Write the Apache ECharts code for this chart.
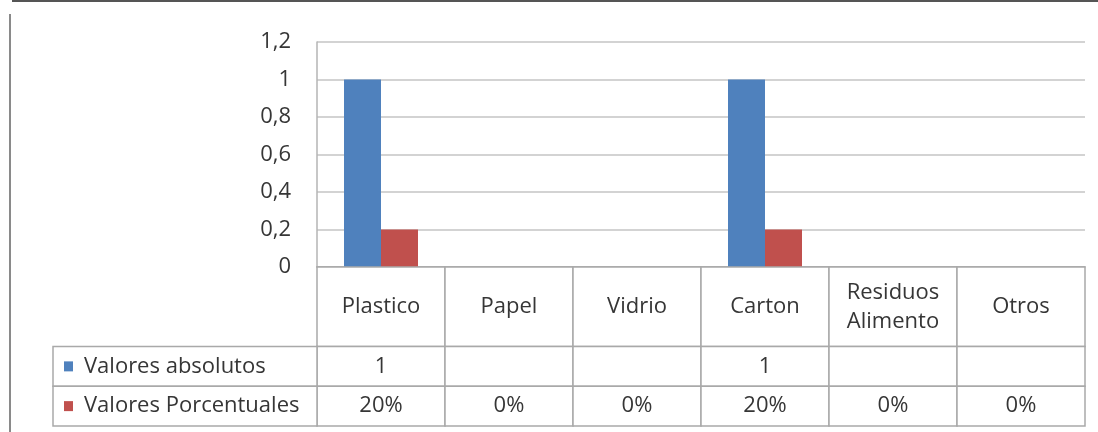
<!DOCTYPE html>
<html>
<head>
<meta charset="utf-8">
<script src="https://cdn.jsdelivr.net/npm/echarts@6/dist/echarts.min.js"></script>
<style>
  html, body { margin: 0; padding: 0; background: #ffffff; }
  #chart { width: 1098px; height: 432px; }
</style>
</head>
<body>
<div id="chart"></div>
<script>
// Waste categories and the two series shown in bars and in the data table
const categories = ['Plastico', 'Papel', 'Vidrio', 'Carton', 'Residuos\nAlimento', 'Otros'];
const seriesNames = ['Valores absolutos', 'Valores Porcentuales'];
const absolutos = [1, null, null, 1, null, null];
const porcentuales = [0.2, 0, 0, 0.2, 0, 0];
const yTickLabels = ['0', '0,2', '0,4', '0,6', '0,8', '1', '1,2'];
const seriesColors = ['#4f81bd', '#c0504d'];

// Data-table rows on an inverted 0..4 scale: header spans two units
const headerRow = [0, 2];
const tableRows = [[2, 3], [3, 4]];

const FONT_FAMILY = '"Open Sans", sans-serif';
const FONT_SIZE = 22;
const TEXT_COLOR = '#363636';
const TABLE_LINE = '#a9a9a9';

const fmtAbs = v => (v === null || v === undefined) ? '' : String(v);
const fmtPct = v => (v === null || v === undefined) ? '' : Math.round(v * 100) + '%';

// Cells of the category columns: header + one row per series
const tableCells = [];
categories.forEach((c, i) => {
  tableCells.push({ value: [i, headerRow[0], headerRow[1]], text: c });
  tableCells.push({ value: [i, tableRows[0][0], tableRows[0][1]], text: fmtAbs(absolutos[i]) });
  tableCells.push({ value: [i, tableRows[1][0], tableRows[1][1]], text: fmtPct(porcentuales[i]) });
});

// Cells of the row-label column (legend keys)
const labelCells = seriesNames.map((n, k) => ({
  value: [0, tableRows[k][0], tableRows[k][1]], text: n, color: seriesColors[k]
}));

function cellRect(api) {
  const top = api.coord([api.value(0), api.value(1)]);
  const bot = api.coord([api.value(0), api.value(2)]);
  const w = api.size([1, 0])[0];
  return { x: top[0] - w / 2, y: top[1], width: w, height: bot[1] - top[1] };
}

function renderTableCell(params, api) {
  const r = cellRect(api);
  const cell = tableCells[params.dataIndex];
  return {
    type: 'group',
    children: [
      { type: 'rect', shape: r, style: { fill: '#ffffff', stroke: TABLE_LINE, lineWidth: 1.5 } },
      { type: 'text', style: {
          text: cell.text, x: r.x + r.width / 2, y: r.y + r.height / 2,
          align: 'center', verticalAlign: 'middle', lineHeight: 29,
          font: FONT_SIZE + 'px ' + FONT_FAMILY, fill: TEXT_COLOR } }
    ]
  };
}

function renderLabelCell(params, api) {
  const r = cellRect(api);
  const cell = labelCells[params.dataIndex];
  const cy = r.y + r.height / 2;
  return {
    type: 'group',
    children: [
      { type: 'rect', shape: r, style: { fill: '#ffffff', stroke: TABLE_LINE, lineWidth: 1.5 } },
      { type: 'rect', shape: { x: r.x + 11, y: cy - 5, width: 9, height: 10 }, style: { fill: cell.color } },
      { type: 'text', style: {
          text: cell.text, x: r.x + 31, y: cy, align: 'left', verticalAlign: 'middle',
          font: FONT_SIZE + 'px ' + FONT_FAMILY, fill: TEXT_COLOR } }
    ]
  };
}

const chart = echarts.init(document.getElementById('chart'), null, { renderer: 'canvas' });

chart.setOption({
  animation: false,
  backgroundColor: '#ffffff',
  textStyle: { fontFamily: FONT_FAMILY },
  graphic: [
    { type: 'line', shape: { x1: 12, y1: 1, x2: 1098, y2: 1 }, style: { stroke: '#555555', lineWidth: 2 } },
    { type: 'line', shape: { x1: 10, y1: 14, x2: 10, y2: 432 }, style: { stroke: '#8a8a8a', lineWidth: 2 } }
  ],
  grid: [
    { left: 317, right: 13, top: 42, height: 225 },
    { left: 317, right: 13, top: 267, height: 159 },
    { left: 53, width: 264, top: 267, height: 159 }
  ],
  xAxis: [
    { type: 'category', gridIndex: 0, data: categories,
      axisLine: { show: true, lineStyle: { color: TABLE_LINE, width: 1.5 } },
      axisTick: { show: false }, axisLabel: { show: false }, splitLine: { show: false } },
    { type: 'category', gridIndex: 1, data: categories, show: false },
    { type: 'category', gridIndex: 2, data: [''], show: false }
  ],
  yAxis: [
    { type: 'value', gridIndex: 0, min: 0, max: 1.2, interval: 0.2,
      axisLine: { show: true, lineStyle: { color: '#b5b5b5', width: 1.5 } },
      axisTick: { show: false },
      axisLabel: { margin: 26, fontSize: FONT_SIZE, color: TEXT_COLOR, fontFamily: FONT_FAMILY,
        formatter: (v, i) => yTickLabels[i] },
      splitLine: { show: true, lineStyle: { color: '#c4c4c4', width: 1.5 } } },
    { type: 'value', gridIndex: 1, min: 0, max: 4, inverse: true, show: false },
    { type: 'value', gridIndex: 2, min: 0, max: 4, inverse: true, show: false }
  ],
  series: [
    { name: seriesNames[0], type: 'bar', xAxisIndex: 0, yAxisIndex: 0, data: absolutos,
      barWidth: 37, barGap: '0%', itemStyle: { color: seriesColors[0] } },
    { name: seriesNames[1], type: 'bar', xAxisIndex: 0, yAxisIndex: 0, data: porcentuales,
      barWidth: 37, barGap: '0%', itemStyle: { color: seriesColors[1] } },
    { type: 'custom', xAxisIndex: 1, yAxisIndex: 1, renderItem: renderTableCell,
      encode: { x: 0, y: [1, 2] }, data: tableCells.map(c => c.value), z: 3 },
    { type: 'custom', xAxisIndex: 2, yAxisIndex: 2, renderItem: renderLabelCell,
      encode: { x: 0, y: [1, 2] },
      data: labelCells.map(c => c.value), z: 3 }
  ]
});
</script>
</body>
</html>
